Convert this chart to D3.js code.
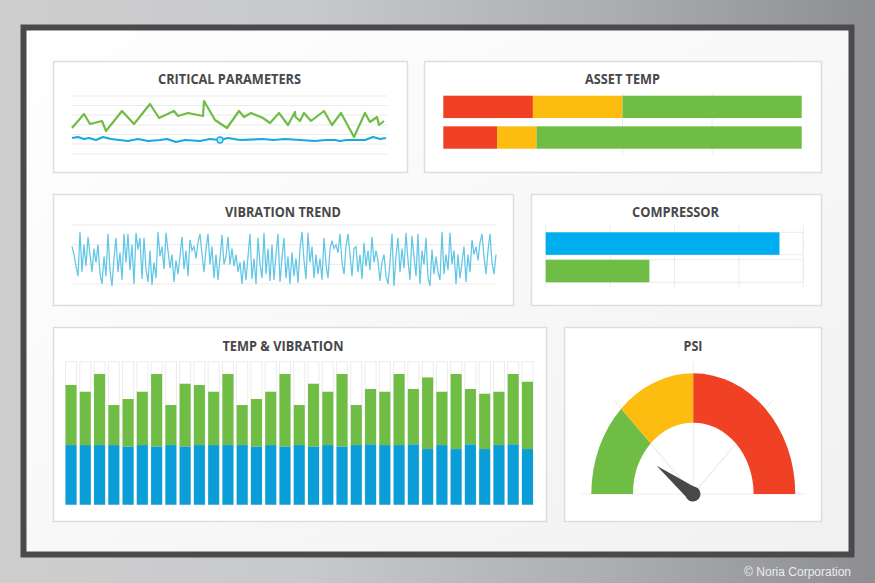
<!DOCTYPE html>
<html>
<head>
<meta charset="utf-8">
<title>Dashboard</title>
<script src="https://cdn.jsdelivr.net/npm/d3@7"></script>
<style>
	html, body { margin: 0; padding: 0; background: #aaa; }
	svg { display: block; }
	.title { font-family: "Open Sans", sans-serif; font-weight: 700; fill: #48484a; text-anchor: middle; }
</style>
</head>
<body>
<script>
// critical parameters: sample position and reading, green and blue line
var critGreenX = [0,12,18,30,34,50,62,78,87,102,106,116,131,132,143,155,167,172,179,191,198,207,216,223,223.5,228,232,239,252,260,269,282,293,298,305,307,312];
var critGreenY = [26,40,30,33,23,43,30,50,36,43,38,41,38,53,34,26,43,37,41,36,31,41,29,42,37,33,41,33,43,29,41,17,41,32,37,29,33];
var critBlueX = [0,6,12,17,24,31,39,56,66,76,88,95,104,113,128,138,148,156,168,191,201,213,228,243,254,263,268,275,293,301,308,314];
var critBlueY = [16,17,15,16,14,17,15,13,15,13,14,15,12,14,13,15,14,16,14,15,14,15,14,13,14,14,13,14,14,17,15,16];
var critMarkerX = 148, critMarkerY = 14;
var critGrid = [0,10,19.5,29,39,48.5,58];

// asset temp: where red stops and yellow stops, in percent
var assetRedEnd = [25, 15];
var assetYellowEnd = [50, 26];
var assetGrid = [50, 75];

// vibration trend
var vibration = [
	38,30,18,8,53,12,40,18,48,30,
	12,36,22,40,10,0,28,8,51,14,
	-2,26,47,12,32,4,51,22,51,14,
	40,0,52,35,47,5,47,15,2,34,
	-1,22,6,53,28,38,15,52,34,16,
	30,2,24,10,28,48,15,34,8,45,
	34,38,26,42,51,30,12,36,51,20,
	38,6,30,4,26,50,20,28,48,20,
	36,18,30,12,22,0,24,4,28,51,
	5,26,0,47,20,6,52,10,36,3,
	40,4,30,51,2,26,47,6,28,0,
	32,8,26,1,36,53,24,5,52,22,
	38,6,30,10,26,4,47,20,6,36,
	44,36,40,32,51,22,10,38,51,30,
	8,36,38,12,30,5,42,18,34,14,
	48,22,34,24,3,22,30,8,0,22,
	51,-2,28,47,12,36,16,52,24,4,
	49,28,8,51,0,34,20,47,6,-2,
	35,10,28,12,4,53,10,30,14,52,
	20,34,0,30,6,22,38,2,30,12,
	45,30,38,24,42,51,28,10,34,51,
	22,10,30
];
var vibGrid = [0,20,40,60];

// compressor bars
var compressorValues = [3.63, 1.61];
var compressorTicks = [0,1,2,3,4];

// temp & vibration: blue height and top of the green part, in percent
var tvBlue = [41.7,41.7,41.7,41.7,40.6,41.7,40.6,41.7,40.6,41.7,41.7,41.7,41.7,40.6,41.7,40.6,41.7,40.6,41.7,40.6,41.7,42.2,41.7,41.7,42.2,38.9,41.7,38.9,42.2,38.9,41.7,42.2,38.9];
var tvTop = [83.7,79,91.4,69.7,73.9,79,91.4,69.7,84.6,83.7,79,91.4,69.7,73.9,79,91.4,69.7,84.6,79,91.4,69.7,80.9,79,91.4,80.9,89,79,91.4,80.9,77.6,79,91.4,86];

// psi gauge: segment limits and needle reading
var gaugeLimits = [0, 25, 50, 100];
var gaugeColors = ["#6fbd45", "#fdbd10", "#f04124"];
var gaugeGrid = [0, 25, 50, 75, 100];
var gaugeNeedle = 21;

var green = "#6fbd45", blue = "#0a9dd7", brightBlue = "#00aeef", red = "#f04124", yellow = "#fdbd10", grid = "#ebebeb";

var svg = d3.select("body").append("svg").attr("width", 875).attr("height", 583);
var defs = svg.append("defs");

// page background
var bg = defs.append("linearGradient").attr("id", "bg");
bg.append("stop").attr("offset", "0").attr("stop-color", "#cecece");
bg.append("stop").attr("offset", "0.35").attr("stop-color", "#c8c9cc");
bg.append("stop").attr("offset", "0.7").attr("stop-color", "#acadb0");
bg.append("stop").attr("offset", "1").attr("stop-color", "#8d8e92");
svg.append("rect").attr("width", 875).attr("height", 583).attr("fill", "url(#bg)");

// inside of the frame
var inner = defs.append("linearGradient").attr("id", "inner").attr("x1", 0).attr("y1", 0).attr("x2", 1).attr("y2", 1);
inner.append("stop").attr("offset", "0").attr("stop-color", "#ffffff");
inner.append("stop").attr("offset", "1").attr("stop-color", "#f1f1f1");

// frame
svg.append("rect").attr("x", 23.5).attr("y", 27.5).attr("width", 828).attr("height", 527)
	.attr("fill", "url(#inner)").attr("stroke", "#4a4a4c").attr("stroke-width", 6);

svg.append("text").attr("x", 851).attr("y", 576).attr("text-anchor", "end")
	.attr("font-family", "Liberation Sans").attr("font-size", 12).attr("fill", "#ececec")
	.text("\u00a9 Noria Corporation");


// card with a title
function addPanel(x0, y0, x1, y1, title, titleX, titleY, titleWidth) {
	svg.append("rect").attr("x", x0 + 0.5).attr("y", y0 + 0.5).attr("width", x1 - x0).attr("height", y1 - y0)
		.attr("fill", "#fff").attr("stroke", "#dddddd").attr("stroke-width", 1.5);
	svg.append("text").attr("class", "title").attr("x", titleX).attr("y", titleY)
		.attr("font-size", 15).attr("textLength", titleWidth).attr("lengthAdjust", "spacingAndGlyphs")
		.text(title);
};

function hGrid(values, y, x0, x1) {
	svg.append("g").selectAll("line").data(values).join("line")
		.attr("x1", x0).attr("x2", x1)
		.attr("y1", function (d) { return y(d); }).attr("y2", function (d) { return y(d); })
		.attr("stroke", grid).attr("stroke-width", 1);
};

function vGrid(values, x, y0, y1) {
	svg.append("g").selectAll("line").data(values).join("line")
		.attr("x1", function (d) { return x(d); }).attr("x2", function (d) { return x(d); })
		.attr("y1", y0).attr("y2", y1)
		.attr("stroke", grid).attr("stroke-width", 1);
};

function drawLine(xs, ys, x, y, color, width) {
	var line = d3.line().x(function (d) { return x(d); }).y(function (d, i) { return y(ys[i]); });
	svg.append("path").attr("d", line(xs)).attr("fill", "none")
		.attr("stroke", color).attr("stroke-width", width).attr("stroke-linejoin", "round");
};


// CRITICAL PARAMETERS
addPanel(53, 61, 407, 172, "CRITICAL PARAMETERS", 229.5, 83.5, 143);
var critX = d3.scaleLinear().domain([0, 314]).range([72, 386]);
var critY = d3.scaleLinear().domain([0, 58]).range([154, 96]);
hGrid(critGrid, critY, 71, 387);
drawLine(critGreenX, critGreenY, critX, critY, green, 2.2);
drawLine(critBlueX, critBlueY, critX, critY, "#1aa9dc", 2.2);
svg.append("circle").attr("cx", critX(critMarkerX)).attr("cy", critY(critMarkerY)).attr("r", 3)
	.attr("fill", "#bfe6f4").attr("stroke", "#1aa9dc").attr("stroke-width", 1.3);


// ASSET TEMP
addPanel(424, 61, 821, 172, "ASSET TEMP", 622.5, 83.5, 75);
var assetX = d3.scaleLinear().domain([0, 100]).range([443.3, 801.7]);
var assetY = d3.scaleBand().domain([0, 1]).range([95.7, 148.7]).paddingInner(0.27);
vGrid(assetGrid, assetX, 93, 155);
[0, 1].forEach(function (row) {
	var parts = [[0, assetRedEnd[row], red], [assetRedEnd[row], assetYellowEnd[row], yellow], [assetYellowEnd[row], 100, green]];
	svg.append("g").selectAll("rect").data(parts).join("rect")
		.attr("x", function (d) { return assetX(d[0]); })
		.attr("width", function (d) { return assetX(d[1]) - assetX(d[0]); })
		.attr("y", assetY(row)).attr("height", assetY.bandwidth())
		.attr("fill", function (d) { return d[2]; });
});


// VIBRATION TREND
addPanel(53, 194, 513, 305, "VIBRATION TREND", 283, 216.5, 116);
var vibX = d3.scaleLinear().domain([0, vibration.length - 1]).range([72, 496]);
var vibY = d3.scaleLinear().domain([0, 60]).range([284, 225]);
hGrid(vibGrid, vibY, 72, 496);
var vibLine = d3.line().x(function (d, i) { return vibX(i); }).y(function (d) { return vibY(d); });
svg.append("path").attr("d", vibLine(vibration)).attr("fill", "none")
	.attr("stroke", "#62c6e6").attr("stroke-width", 1.25);


// COMPRESSOR
addPanel(531, 194, 821, 305, "COMPRESSOR", 675.5, 216.5, 87);
var compX = d3.scaleLinear().domain([0, 4]).range([545.7, 803.3]);
var compY = d3.scaleBand().domain([0, 1]).range([232.3, 282.3]).paddingInner(0.18);
vGrid(compressorTicks, compX, 225, 287);
compressorValues.forEach(function (v, i) {
	svg.append("rect").attr("x", compX(0)).attr("y", compY(i)).attr("width", compX(4) - compX(0)).attr("height", compY.bandwidth())
		.attr("fill", "none").attr("stroke", grid);
});
svg.append("g").selectAll("rect").data(compressorValues).join("rect")
	.attr("x", compX(0))
	.attr("y", function (d, i) { return compY(i); })
	.attr("width", function (d) { return compX(d) - compX(0); })
	.attr("height", compY.bandwidth())
	.attr("fill", function (d, i) { return i ? green : brightBlue; });


// TEMP & VIBRATION
addPanel(53, 327, 546, 521, "TEMP & VIBRATION", 283, 350.5, 121);
var tvX = d3.scaleBand().domain(d3.range(tvBlue.length)).range([65.5, 533]).paddingInner(0.225);
var tvY = d3.scaleLinear().domain([0, 100]).range([504.7, 361.7]);
svg.append("g").selectAll("rect").data(tvBlue).join("rect")
	.attr("x", function (d, i) { return tvX(i); }).attr("width", tvX.bandwidth())
	.attr("y", tvY(100)).attr("height", tvY(0) - tvY(100))
	.attr("fill", "#fff").attr("stroke", "#ececec");
svg.append("g").selectAll("rect").data(tvTop).join("rect")
	.attr("x", function (d, i) { return tvX(i); }).attr("width", tvX.bandwidth())
	.attr("y", function (d) { return tvY(d); })
	.attr("height", function (d, i) { return tvY(tvBlue[i]) - tvY(d); })
	.attr("fill", green);
svg.append("g").selectAll("rect").data(tvBlue).join("rect")
	.attr("x", function (d, i) { return tvX(i); }).attr("width", tvX.bandwidth())
	.attr("y", function (d) { return tvY(d); })
	.attr("height", function (d) { return tvY(0) - tvY(d); })
	.attr("fill", blue);


// PSI gauge, the dial is stretched upwards in the picture
addPanel(564, 327, 821, 521, "PSI", 693, 350.5, 19);
var gaugeAngle = d3.scaleLinear().domain([0, 100]).range([-Math.PI / 2, Math.PI / 2]);
var dial = svg.append("g").attr("transform", "translate(693.3,494) scale(1,1.183)");
var gridR = 112;
dial.append("g").selectAll("line").data(gaugeGrid).join("line")
	.attr("x1", 0).attr("y1", 0)
	.attr("x2", function (d) { return gridR * Math.sin(gaugeAngle(d)); })
	.attr("y2", function (d) { return -gridR * Math.cos(gaugeAngle(d)); })
	.attr("stroke", grid).attr("stroke-width", 1);
var gaugeArc = d3.arc().innerRadius(60.3).outerRadius(102);
dial.append("g").selectAll("path").data(gaugeColors).join("path")
	.attr("d", function (d, i) {
		return gaugeArc({ startAngle: gaugeAngle(gaugeLimits[i]), endAngle: gaugeAngle(gaugeLimits[i + 1]) });
	})
	.attr("fill", function (d) { return d; });

// needle in true pixels
var needleDeg = gaugeAngle(gaugeNeedle) * 180 / Math.PI;
var needle = svg.append("g").attr("transform", "translate(693,494) rotate(" + needleDeg + ")").attr("fill", "#48484a");
needle.append("circle").attr("r", 7.5);
needle.append("path").attr("d", d3.line()([[-7.3, 1.5], [0, -46], [7.3, 1.5]]));
</script>
</body>
</html>
